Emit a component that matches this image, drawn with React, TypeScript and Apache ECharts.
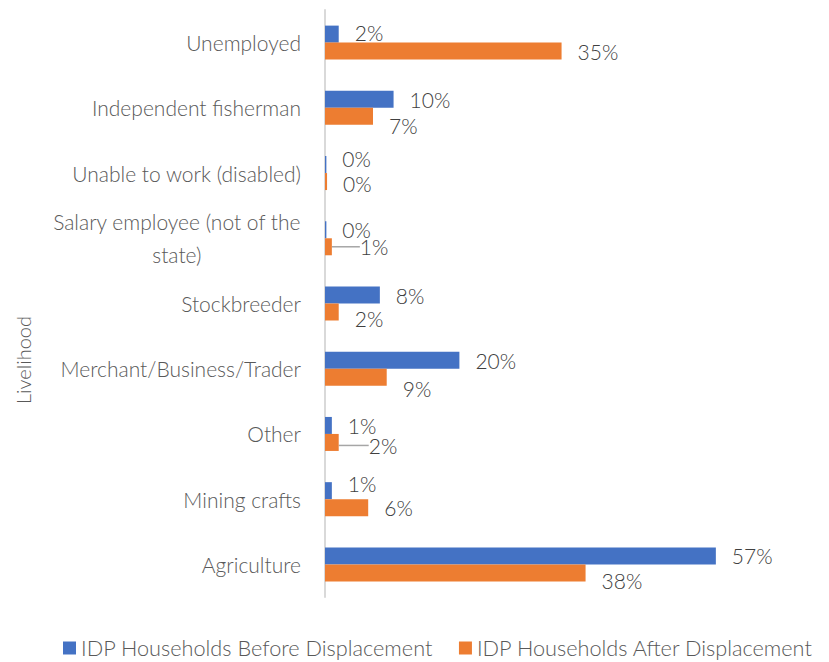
import React, { useEffect, useRef } from "react";
import * as echarts from "echarts";

const categories = [
  "Unemployed",
  "Independent fisherman",
  "Unable to work (disabled)",
  "Salary employee (not of the state)",
  "Stockbreeder",
  "Merchant/Business/Trader",
  "Other",
  "Mining crafts",
  "Agriculture",
];
const before = [2, 10, 0.2, 0.2, 8, 19.6, 1, 1, 57];
const after = [34.5, 7, 0.3, 1, 2, 9, 2, 6.3, 38];
const seriesNames = ["IDP Households Before Displacement", "IDP Households After Displacement"];
const axisTitle = "Livelihood";

const FONT = "Lato, 'Open Sans', sans-serif";
const BLUE = "#4472C4";
const ORANGE = "#ED7D31";

const beforeDy = [-2, 0, -6, 0, 0, 0, 0, -7, 0];
const afterDy = [0, 9, 2, 0, 6, 11, 3, 0, 8];
const afterDx = [0, 0, 0, 12, 0, 0, 14, 0, 0];
const afterGuide = [false, false, false, true, false, false, true, false, false];

export default function App() {
  const ref = useRef<HTMLDivElement>(null);
  useEffect(() => {
    if (!ref.current) return;
    const chart = echarts.init(ref.current, undefined, { renderer: "svg" });
    const labelBase = {
      show: true,
      position: "right",
      distance: 16,
      formatter: (p: any) => Math.round(p.value) + "%",
      color: "#404040",
      fontSize: 21,
      fontWeight: 300,
      fontFamily: FONT,
    };
    chart.setOption({
      animation: false,
      textStyle: { fontFamily: FONT },
      grid: { left: 325, top: 10, width: 480, height: 587, containLabel: false },
      xAxis: {
        type: "value",
        min: 0,
        max: 70,
        show: false,
      },
      yAxis: {
        type: "category",
        data: categories,
        inverse: true,
        axisTick: { show: false },
        axisLine: { show: true, lineStyle: { color: "#d9d9d9", width: 2 } },
        axisLabel: {
          color: "#595959",
          fontSize: 21,
          fontWeight: 300,
          fontFamily: FONT,
          margin: 24,
          formatter: (v: string) =>
            v === "Salary employee (not of the state)"
              ? "{c|Salary employee (not of the}\n{c|state)}"
              : v,
          rich: {
            c: { align: "center", fontSize: 21, fontWeight: 300, color: "#595959", fontFamily: FONT, lineHeight: 33 },
          },
        },
        splitLine: { show: false },
      },
      legend: {
        left: 63,
        top: 632,
        width: 766,
        padding: [5, 0],
        itemWidth: 13,
        itemHeight: 13,
        itemGap: 26,
        icon: "rect",
        textStyle: { color: "#595959", fontSize: 21.7, fontWeight: 300, fontFamily: FONT },
        data: seriesNames,
      },
      graphic: [
        {
          type: "text",
          x: 13,
          y: 360,
          rotation: Math.PI / 2,
          style: {
            text: axisTitle,
            fill: "#595959",
            fontSize: 20,
            fontWeight: 300,
            fontFamily: FONT,
            align: "center",
            verticalAlign: "top",
          },
        },
      ],
      series: [
        {
          name: seriesNames[0],
          type: "bar",
          data: before,
          barWidth: 17,
          barGap: "0%",
          itemStyle: { color: BLUE },
          label: labelBase,
          labelLayout: (p: any) => ({ dy: beforeDy[p.dataIndex] || 0 }),
        },
        {
          name: seriesNames[1],
          type: "bar",
          data: after.map((v, i) => ({
            value: v,
            labelLine: { show: afterGuide[i], lineStyle: { color: "#a6a6a6", width: 1.5 } },
          })),
          barWidth: 17,
          itemStyle: { color: ORANGE },
          label: labelBase,
          labelLine: { show: false },
          labelLayout: (p: any) => ({ dx: afterDx[p.dataIndex] || 0, dy: afterDy[p.dataIndex] || 0 }),
        },
      ],
    });
    return () => chart.dispose();
  }, []);
  return (
    <div
      ref={ref}
      style={{ position: "absolute", left: 0, top: 0, width: 829, height: 662 }}
    />
  );
}
